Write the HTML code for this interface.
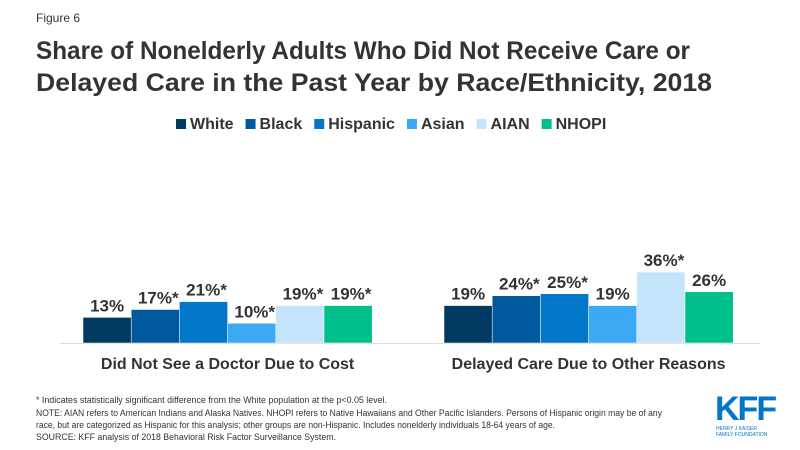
<!DOCTYPE html>
<html><head><meta charset="utf-8"><style>
body{margin:0;width:800px;height:450px;background:#fff;font-family:"Liberation Sans",sans-serif;overflow:hidden;position:relative}
.t{position:absolute;white-space:nowrap}
</style></head><body>
<div class="t" style="left:36px;top:11px;font-size:12px;color:#333">Figure 6</div>
<svg width="800" height="450" style="position:absolute;left:0;top:0" font-family="Liberation Sans">
<text x="36" y="59" font-size="25" font-weight="bold" fill="#333" textLength="654" lengthAdjust="spacingAndGlyphs">Share of Nonelderly Adults Who Did Not Receive Care or</text>
<text x="36" y="91" font-size="25" font-weight="bold" fill="#333" textLength="676" lengthAdjust="spacingAndGlyphs">Delayed Care in the Past Year by Race/Ethnicity, 2018</text>
<g font-size="9" fill="#333">
<text x="36" y="403" textLength="351" lengthAdjust="spacingAndGlyphs">* Indicates statistically significant difference from the White population at the p&lt;0.05 level.</text>
<text x="36" y="416" textLength="626" lengthAdjust="spacingAndGlyphs">NOTE: AIAN refers to American Indians and Alaska Natives. NHOPI refers to Native Hawaiians and Other Pacific Islanders. Persons of Hispanic origin may be of any</text>
<text x="36" y="428" textLength="519" lengthAdjust="spacingAndGlyphs">race, but are categorized as Hispanic for this analysis; other groups are non-Hispanic. Includes nonelderly individuals 18-64 years of age.</text>
<text x="36" y="440" textLength="300" lengthAdjust="spacingAndGlyphs">SOURCE: KFF analysis of 2018 Behavioral Risk Factor Surveillance System.</text>
</g>
</svg>
<svg id="chart" width="800" height="450" style="position:absolute;left:0;top:0"></svg>
<div class="t" style="left:715px;top:392px;color:#0077c8;font-weight:bold;font-size:34px;letter-spacing:-2px;line-height:34px">KFF</div>
<div class="t" style="left:716px;top:426px;color:#0077c8;font-size:5px;line-height:6px">HENRY J KAISER<br>FAMILY FOUNDATION</div>
<script>
const categories=["Did Not See a Doctor Due to Cost","Delayed Care Due to Other Reasons"];
const seriesNames=["White","Black","Hispanic","Asian","AIAN","NHOPI"];
const colors=["#003a63","#00599c","#0077c8","#3ca9f5","#c3e4fb","#00bf8a"];
const values=[[13,17,21,10,19,19],[19,24,25,19,36,26]];
const sig=[[false,true,true,true,true,true],[false,true,true,false,true,false]];
const svg=document.getElementById('chart');
const NS='http://www.w3.org/2000/svg';
const base=343,scale=1.97,groupX=[83,444],bw=48.2;
const y=v=>base-v*scale;
function mk(tag,attrs){const e=document.createElementNS(NS,tag);for(const k in attrs)e.setAttribute(k,attrs[k]);svg.appendChild(e);return e;}
let lx=176;
seriesNames.forEach((n,i)=>{
  const r=mk('rect',{x:lx,y:119,width:10,height:10,fill:colors[i]});
  
  
  const t=mk('text',{x:lx+14,y:129,'font-size':'16','font-weight':'bold',fill:'#333','font-family':'Liberation Sans'});
  t.textContent=n;
  
  
  lx+=14+t.getComputedTextLength()+12;
});
const ax=mk('line',{x1:60,x2:760,y1:base+0.5,y2:base+0.5,stroke:'#d9d9d9','stroke-width':1});


categories.forEach((c,g)=>{
  values[g].forEach((v,i)=>{
    const x=groupX[g]+i*bw;
    const r=mk('rect',{x:x,y:y(v),width:bw,height:v*scale,fill:colors[i],stroke:'#fff','stroke-width':0.5});
    
    
    const t=mk('text',{x:x+bw/2+(sig[g][i]?3:0),y:y(v)-6,'text-anchor':'middle','font-size':'17','font-weight':'bold',fill:'#333','font-family':'Liberation Sans'});
    t.textContent=v+'%'+(sig[g][i]?'*':'');
    
    
  });
  const t=mk('text',{x:groupX[g]+3*bw,y:369,'text-anchor':'middle','font-size':'16','font-weight':'bold',fill:'#333','font-family':'Liberation Sans'});
  t.textContent=c;
  
  
});
</script>
</body></html>
